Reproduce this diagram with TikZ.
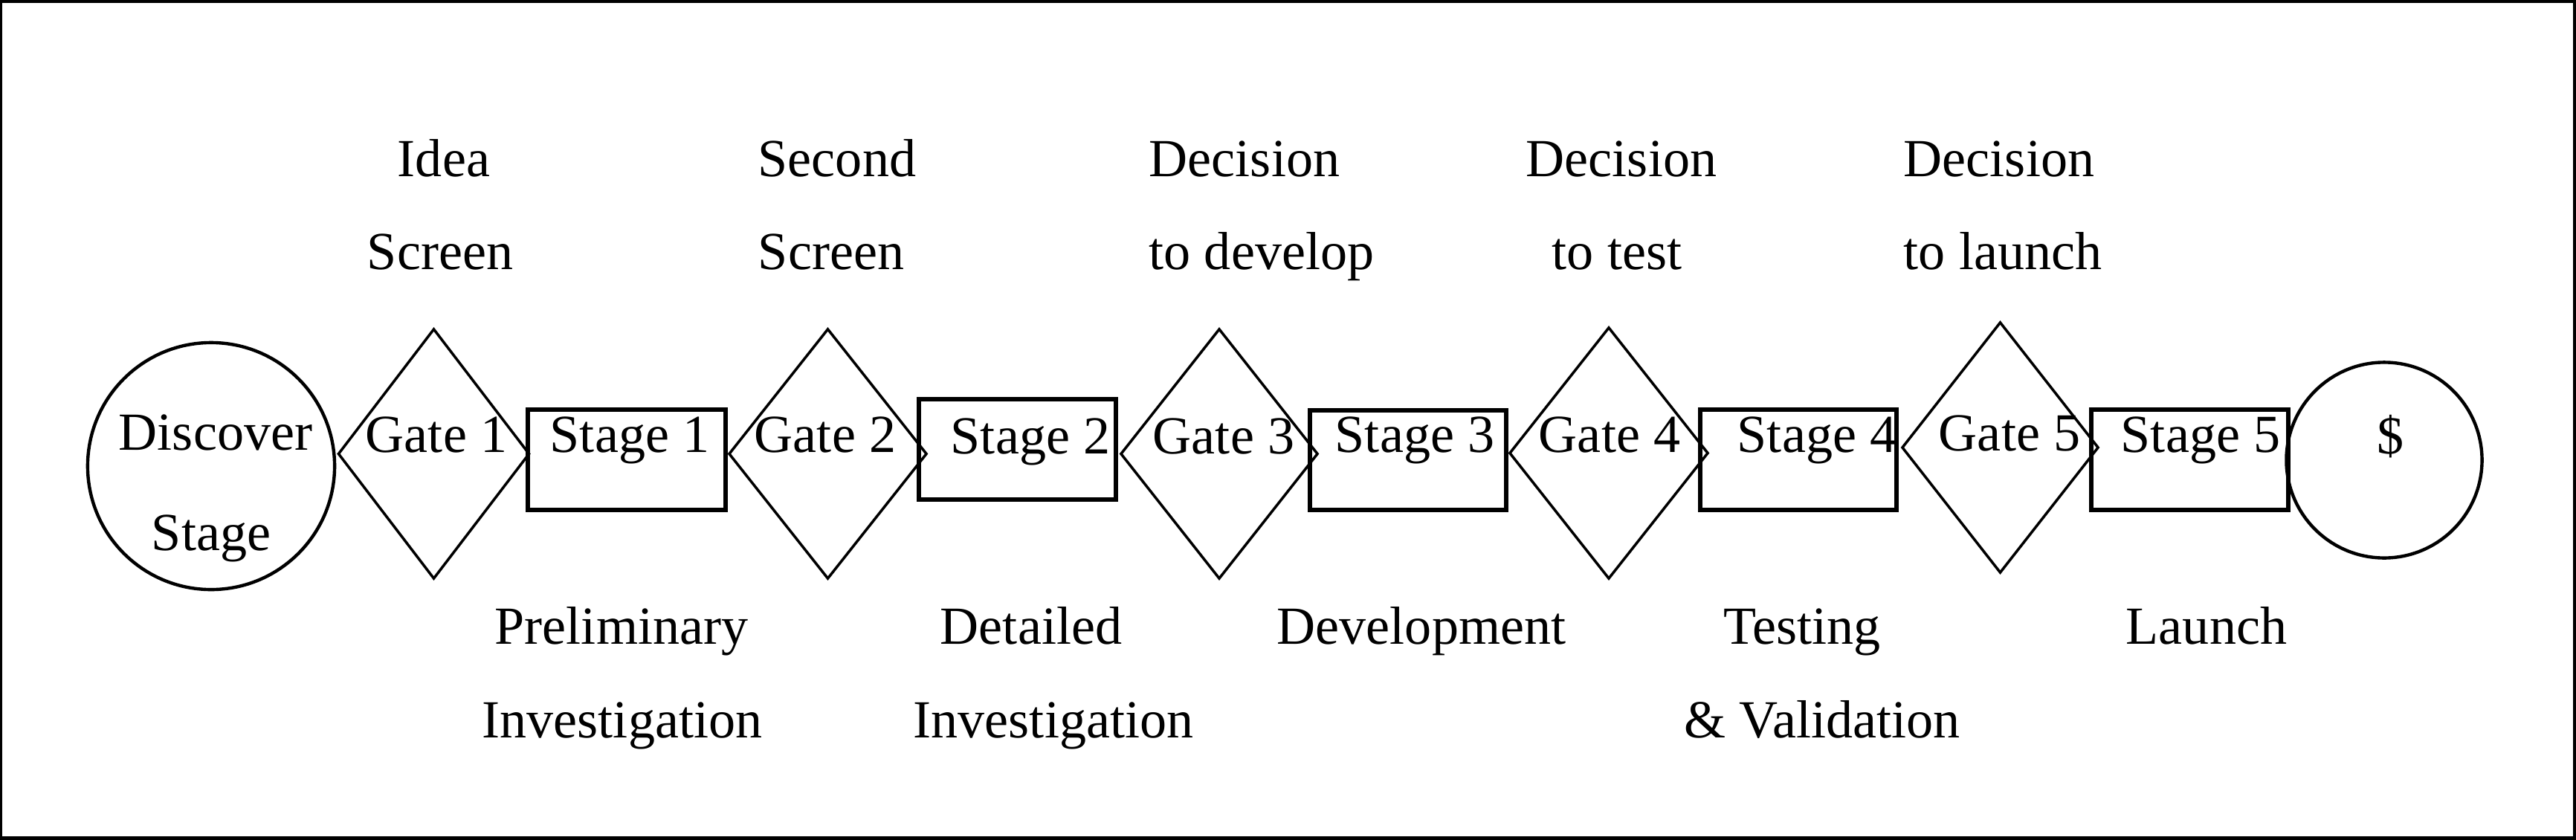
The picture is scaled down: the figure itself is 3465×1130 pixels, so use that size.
\documentclass[tikz,border=0pt]{standalone}
\usepackage{fontspec}
\setmainfont{Liberation Serif}
\usetikzlibrary{shapes.geometric}
\begin{document}
\begin{tikzpicture}[x=0.01cm,y=-0.01cm,
  gate/.style={draw, diamond, inner sep=0pt, outer sep=0pt, line width=1.0pt},
  stagebox/.style={draw, rectangle, inner sep=0pt, outer sep=0pt, line width=1.5pt, minimum width=2.65cm, minimum height=1.35cm},
  endcircle/.style={draw, circle, inner sep=0pt, outer sep=0pt, line width=1.25pt},
  lbl/.style={inner sep=0pt, outer sep=0pt, anchor=base, font=\fontsize{20.5pt}{24pt}\selectfont}]
\useasboundingbox (0,0) rectangle (3465,1130);
\node[draw, line width=1.3pt, inner sep=0pt, minimum width=34.60cm, minimum height=11.25cm] (frame) at (1732,564.5) {};
% shapes
\node[endcircle, minimum size=3.32cm] (disc) at (284,627) {};
\node[gate, minimum width=2.56cm, minimum height=3.35cm] (g1) at (583.5,610.5) {};
\node[stagebox, minimum width=2.66cm] (s1) at (843,618.5) {};
\node[gate, minimum width=2.65cm, minimum height=3.35cm] (g2) at (1113.5,610.5) {};
\node[stagebox] (s2) at (1368.5,604.5) {};
\node[gate, minimum width=2.64cm, minimum height=3.35cm] (g3) at (1640,610.5) {};
\node[stagebox, minimum width=2.64cm, minimum height=1.34cm] (s3) at (1894,619) {};
\node[gate, minimum width=2.66cm, minimum height=3.37cm] (g4) at (2164,609.5) {};
\node[stagebox, minimum width=2.64cm] (s4) at (2419,618.5) {};
\node[gate, minimum width=2.63cm, minimum height=3.36cm] (g5) at (2690.5,602) {};
\node[stagebox] (s5) at (2945.5,618.5) {};
\node[endcircle, minimum size=2.63cm] (money) at (3207,619) {};
% top labels
\node[lbl] (t1a) at (597,237) {Idea};
\node[lbl] (t1b) at (592,362) {Screen};
\node[lbl] (t2a) at (1126,237) {Second};
\node[lbl] (t2b) at (1118,362) {Screen};
\node[lbl] (t3a) at (1674,237) {Decision};
\node[lbl] (t3b) at (1697,362) {to develop};
\node[lbl] (t4a) at (2181,237) {Decision};
\node[lbl] (t4b) at (2175,362) {to test};
\node[lbl] (t5a) at (2689,237) {Decision};
\node[lbl] (t5b) at (2694,362) {to launch};
% middle labels
\node[lbl] (d1) at (290,605) {Discover};
\node[lbl] (d2) at (284,740) {Stage};
\node[lbl] (lg1) at (587,608) {Gate 1};
\node[lbl] (ls1) at (847,608) {Stage 1};
\node[lbl] (lg2) at (1110,608) {Gate 2};
\node[lbl] (ls2) at (1386,610) {Stage 2};
\node[lbl] (lg3) at (1646,610) {Gate 3};
\node[lbl] (ls3) at (1903,608) {Stage 3};
\node[lbl] (lg4) at (2165,608) {Gate 4};
\node[lbl] (ls4) at (2444,608) {Stage 4};
\node[lbl] (lg5) at (2703,606) {Gate 5};
\node[lbl] (ls5) at (2960,608) {Stage 5};
\node[lbl] (lm) at (3215,610) {\$};
% bottom labels
\node[lbl] (b1a) at (836,866) {Preliminary};
\node[lbl] (b1b) at (837,992) {Investigation};
\node[lbl] (b2a) at (1387,866) {Detailed};
\node[lbl] (b2b) at (1417,992) {Investigation};
\node[lbl] (b3a) at (1912,866) {Development};
\node[lbl] (b4a) at (2424,866) {Testing};
\node[lbl] (b4b) at (2451,992) {\& Validation};
\node[lbl] (b5a) at (2968,866) {Launch};
\end{tikzpicture}
\end{document}
